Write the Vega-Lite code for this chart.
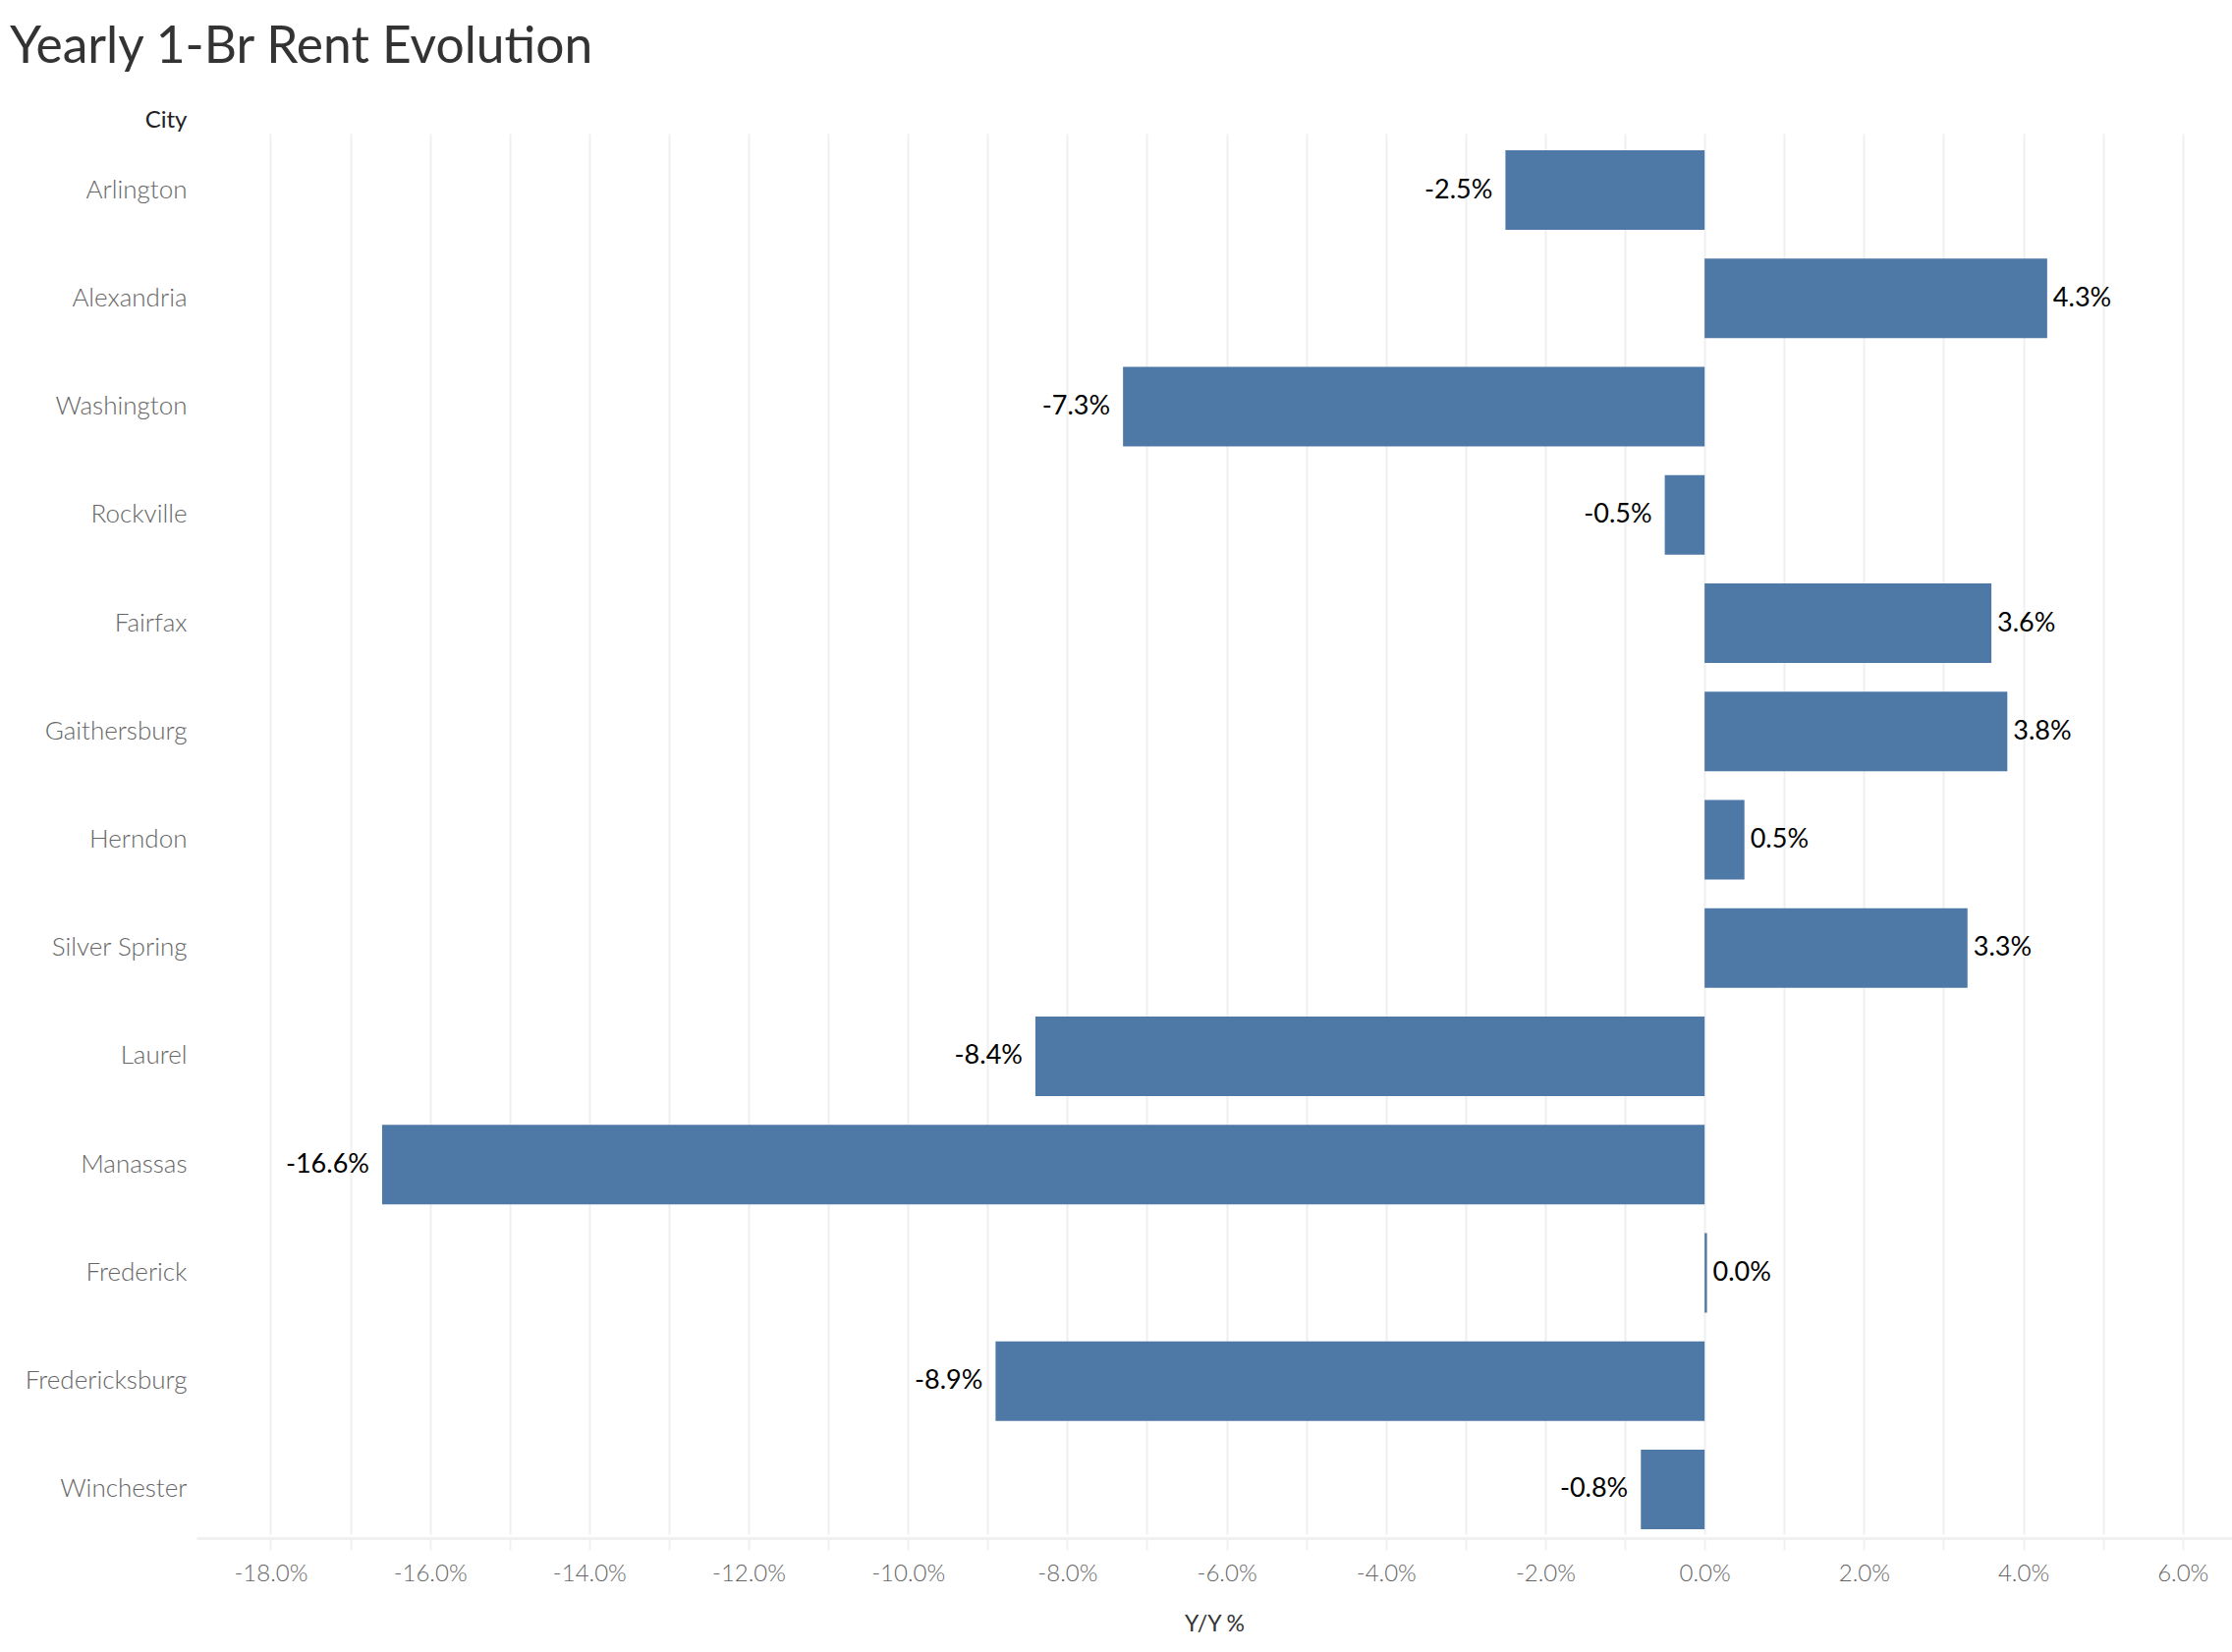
{
  "$schema": "https://vega.github.io/schema/vega-lite/v6.json",
  "autosize": {"type": "none"},
  "width": 2072,
  "height": 1428,
  "padding": {"left": 200, "top": 138, "right": 0, "bottom": 116},
  "background": "white",
  "title": {
    "text": "Yearly 1-Br Rent Evolution",
    "anchor": "start",
    "frame": "group",
    "font": "Lato",
    "fontSize": 51.5,
    "fontWeight": "normal",
    "color": "#333333",
    "baseline": "alphabetic",
    "offset": 0,
    "dx": -190,
    "dy": 5
  },
  "config": {
    "view": {"stroke": null},
    "font": "Lato",
    "locale": {
      "number": {"decimal": ".", "thousands": ",", "grouping": [3], "currency": ["$", ""], "minus": "-"}
    }
  },
  "data": {
    "values": [
      {"City": "Arlington", "yoy": -0.025},
      {"City": "Alexandria", "yoy": 0.043},
      {"City": "Washington", "yoy": -0.073},
      {"City": "Rockville", "yoy": -0.005},
      {"City": "Fairfax", "yoy": 0.036},
      {"City": "Gaithersburg", "yoy": 0.038},
      {"City": "Herndon", "yoy": 0.005},
      {"City": "Silver Spring", "yoy": 0.033},
      {"City": "Laurel", "yoy": -0.084},
      {"City": "Manassas", "yoy": -0.166},
      {"City": "Frederick", "yoy": 0.0003},
      {"City": "Fredericksburg", "yoy": -0.089},
      {"City": "Winchester", "yoy": -0.008}
    ]
  },
  "encoding": {
    "y": {
      "field": "City",
      "type": "nominal",
      "sort": null,
      "scale": {"paddingInner": 0.265, "paddingOuter": 0.1, "range": [4, 1430]},
      "axis": {
        "title": "City",
        "titleAngle": 0,
        "titleAlign": "right",
        "titleBaseline": "middle",
        "titleX": -10,
        "titleY": -16,
        "titleFont": "Lato",
        "titleFontSize": 24,
        "titleFontWeight": "normal",
        "titleColor": "#222222",
        "labelFont": "Lato",
        "labelFontSize": 26,
        "labelFontWeight": 300,
        "labelColor": "#666666",
        "labelPadding": 10,
        "ticks": false,
        "domain": false,
        "grid": false
      }
    }
  },
  "layer": [
    {
      "mark": {"type": "bar", "opacity": 0},
      "encoding": {
        "x": {
          "field": "yoy",
          "type": "quantitative",
          "scale": {"domain": [-0.1893, 0.0662], "nice": false, "zero": false},
          "axis": {
            "title": "Y/Y %",
            "titleFont": "Lato",
            "titleFontSize": 23,
            "titleFontWeight": "normal",
            "titleColor": "#333333",
            "titlePadding": 28,
            "values": [-0.18, -0.17, -0.16, -0.15, -0.14, -0.13, -0.12, -0.11, -0.10, -0.09, -0.08, -0.07, -0.06, -0.05, -0.04, -0.03, -0.02, -0.01, 0, 0.01, 0.02, 0.03, 0.04, 0.05, 0.06],
            "labelExpr": "abs(round(datum.value*100)) % 2 == 0 ? format(datum.value, '.1%') : ''",
            "labelFont": "Lato",
            "labelFontSize": 24,
            "labelFontWeight": 300,
            "labelColor": "#666666",
            "labelPadding": 12,
            "labelFlush": false,
            "labelOverlap": false,
            "grid": true,
            "gridColor": "#f0f0f0",
            "gridWidth": 2,
            "tickColor": "#f0f0f0",
            "tickWidth": 2,
            "tickSize": 12,
            "domainColor": "#f0f0f0",
            "domainWidth": 3
          }
        }
      }
    },
    {
      "mark": {"type": "rule", "color": "#c4c4c4", "strokeDash": [4, 3], "strokeWidth": 1.5},
      "encoding": {"x": {"datum": 0}}
    },
    {
      "mark": {"type": "bar", "color": "#4e79a7"},
      "encoding": {
        "x": {"field": "yoy", "type": "quantitative"}
      }
    },
    {
      "transform": [{"filter": "datum.yoy < 0"}],
      "mark": {"type": "text", "align": "right", "baseline": "middle", "dx": -13, "font": "Lato", "fontSize": 27, "color": "#000000"},
      "encoding": {
        "x": {"field": "yoy", "type": "quantitative"},
        "text": {"field": "yoy", "type": "quantitative", "format": ".1%"}
      }
    },
    {
      "transform": [{"filter": "datum.yoy >= 0"}],
      "mark": {"type": "text", "align": "left", "baseline": "middle", "dx": 6, "font": "Lato", "fontSize": 27, "color": "#000000"},
      "encoding": {
        "x": {"field": "yoy", "type": "quantitative"},
        "text": {"field": "yoy", "type": "quantitative", "format": ".1%"}
      }
    }
  ]
}
